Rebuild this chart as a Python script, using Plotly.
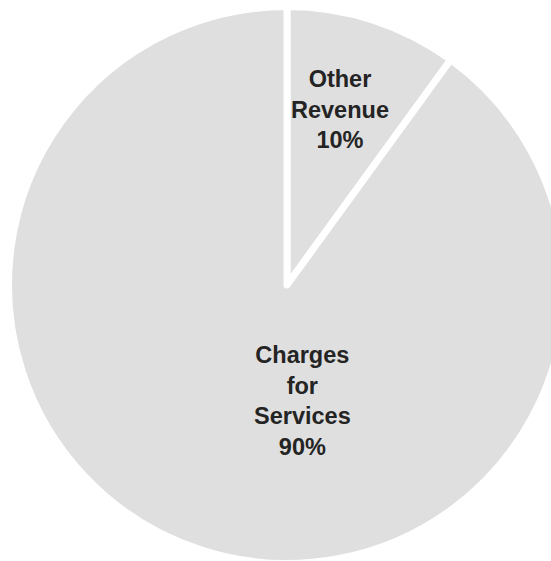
import plotly.graph_objects as go

# Revenue sources and their shares (percent)
sources = ["Other Revenue", "Charges for Services"]
shares = [10, 90]

# Label text as drawn inside each slice
label_lines = [["Other", "Revenue"], ["Charges", "for", "Services"]]

FIG_W, FIG_H = 566, 564
SLICE_COLOR = "#dfdfdf"
TEXT_COLOR = "#242424"
FONT = "Liberation Sans, Arial, Helvetica, sans-serif"

fig = go.Figure(
    go.Pie(
        labels=sources,
        values=shares,
        sort=False,
        direction="clockwise",
        rotation=0,
        marker=dict(colors=[SLICE_COLOR] * len(sources),
                    line=dict(color="white", width=7)),
        textinfo="none",
        hoverinfo="label+percent",
        showlegend=False,
        domain=dict(x=[8.5 / FIG_W, 565.5 / FIG_W],
                    y=[(FIG_H - 563.5) / FIG_H, (FIG_H - 6.5) / FIG_H]),
    )
)

# Slice label anchor points, in pixels from the top-left corner
label_px = [(340, 109), (302, 401)]

total = sum(shares)
for lines, val, (px, py) in zip(label_lines, shares, label_px):
    text = "<br>".join(lines + [f"{round(100 * val / total)}%"])
    fig.add_annotation(
        x=px / FIG_W, y=1 - py / FIG_H, xref="paper", yref="paper",
        xanchor="center", yanchor="middle", showarrow=False,
        text=text, align="center",
        font=dict(family=FONT, size=23.5, color=TEXT_COLOR, weight="bold"),
    )

fig.update_layout(
    width=FIG_W, height=FIG_H,
    margin=dict(l=0, r=0, t=0, b=0),
    paper_bgcolor="white", plot_bgcolor="white",
)

fig.write_html(
    "out.html",
    config={"displayModeBar": False},
    post_script="document.documentElement.style.overflow='hidden';"
                "document.body.style.overflow='hidden';",
)
